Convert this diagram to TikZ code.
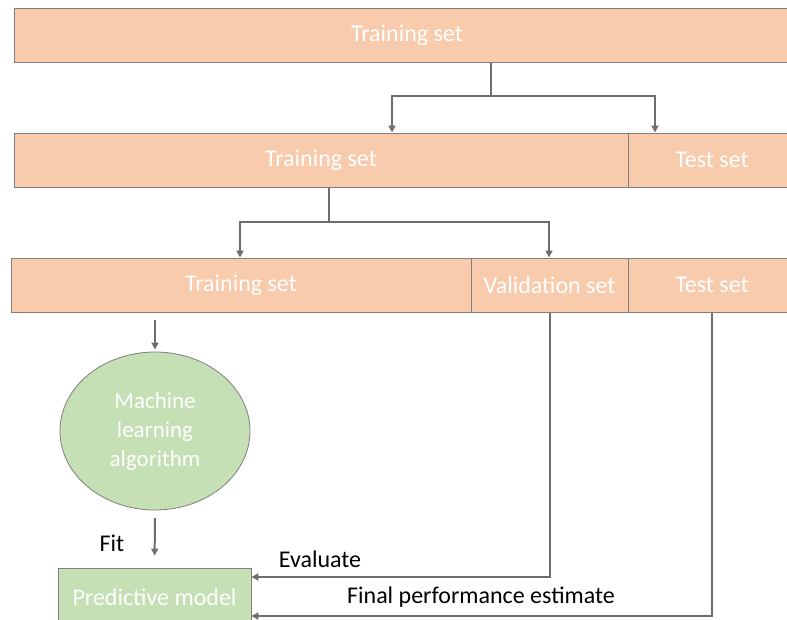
\documentclass[tikz,border=0pt]{standalone}
\usepackage{fontspec}
\setmainfont{Carlito}
\usetikzlibrary{arrows.meta,shapes.geometric}
\definecolor{orangefill}{HTML}{F8CBAD}
\definecolor{greenfill}{HTML}{C5E0B4}
\definecolor{boxgray}{HTML}{7F7F7F}
\definecolor{arrgray}{HTML}{6E6E6E}
\tikzset{
  obox/.style={draw=boxgray, fill=orangefill, line width=1pt, minimum height=54pt, inner sep=0pt, text=white, font=\fontsize{24}{28}\selectfont},
  gbox/.style={draw=boxgray, fill=greenfill, line width=0.8pt, inner sep=0pt, text=white, font=\fontsize{24}{28}\selectfont},
  arr/.style={draw=arrgray, line width=2pt, -{Triangle[length=7pt,width=7pt]}},
  lbl/.style={text=black, font=\fontsize{24}{28}\selectfont, inner sep=0pt}
}
\begin{document}
\begin{tikzpicture}[x=1pt,y=-1pt]
\useasboundingbox (0,0) rectangle (787,619);
% rows
\node[obox, minimum width=786pt] (r1) at (407,35) {Training set};
\node[obox, minimum width=614pt] (r2a) at (321,160) {Training set};
\node[obox, minimum width=168pt] (r2b) at (712,160) {Test set};
\node[obox, minimum width=460pt] (r3a) at (241,285) {Training set};
\node[obox, minimum width=157pt] (r3b) at (549.5,285) {Validation set};
\node[obox, minimum width=168pt] (r3c) at (712,285) {Test set};
% ellipse and model
\node[gbox, ellipse, minimum width=190pt, minimum height=158pt, align=center, font=\fontsize{23}{29}\selectfont] (ml) at (155,431) {Machine\\learning\\algorithm};
\node[gbox, minimum width=193pt, minimum height=58pt] (pm) at (154.5,597) {Predictive model};
% labels
\node[lbl] (fit) at (112,543) {Fit};
\node[lbl] (ev) at (320,559) {Evaluate};
\node[lbl] (fp) at (481,597) {Final performance estimate};
% junction coordinates
\coordinate (j1) at (491,96);
\coordinate (t1) at (392,96);
\coordinate (t2) at (655,96);
\coordinate (j2) at (329,222);
\coordinate (t3) at (240,222);
\coordinate (t4) at (549,222);
\coordinate (a1) at (155,320);
\coordinate (a2) at (155,518);
\coordinate (e1) at (0,577);
\coordinate (f1) at (0,616);
% connectors
\draw[arrgray, line width=2pt] (r1.south -| j1) -- (j1);
\draw[arr] (j1) -| (t1 |- r2a.north);
\draw[arr] (j1) -| (t2 |- r2b.north);
\draw[arrgray, line width=2pt] (r2a.south -| j2) -- (j2);
\draw[arr] (j2) -| (t3 |- r3a.north);
\draw[arr] (j2) -| (t4 |- r3b.north);
\draw[arr, shorten >=2pt] (a1) -- (ml.north);
\draw[arr, shorten >=12pt] (a2) -- (pm.north);
\draw[arr] (r3b.south) |- (e1 -| pm.east);
\draw[arr] (r3c.south) |- (f1 -| pm.east);
\end{tikzpicture}
\end{document}
